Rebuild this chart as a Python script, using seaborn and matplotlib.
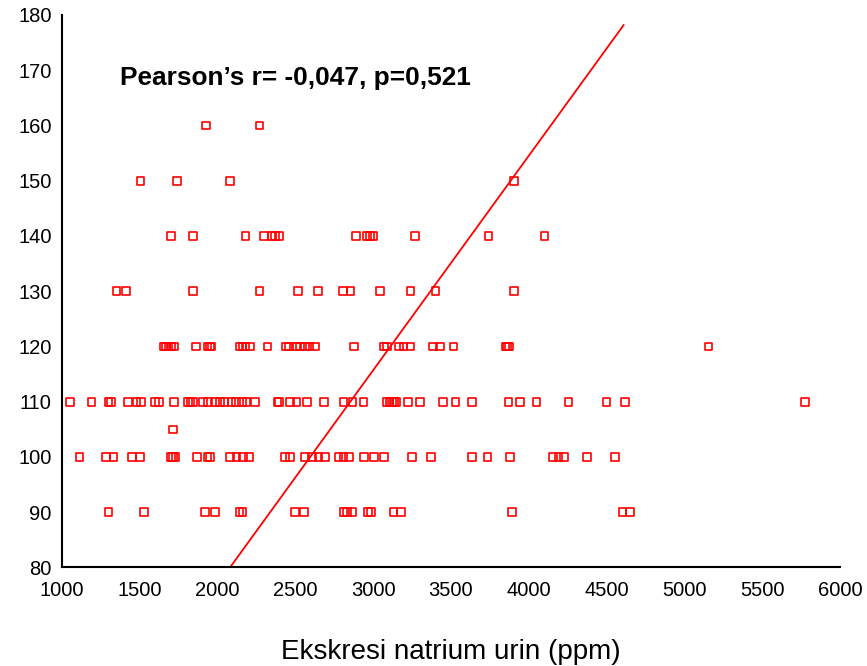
import numpy as np
import pandas as pd
import matplotlib
matplotlib.use("Agg")
import matplotlib.pyplot as plt
import seaborn as sns

# Data (urinary sodium excretion in ppm vs. blood pressure level)
x_160 = [1925, 2270]
x_150 = [1505, 1740, 2080, 3905]
x_140 = [1700, 1840, 2180, 2300, 2350, 2370, 2395, 2890, 2960, 2980, 3000, 3270, 3740, 4100]
x_130 = [1350, 1410, 1840, 2270, 2515, 2645, 2805, 2855, 3045, 3240, 3400, 3905]
x_120 = [1655, 1670, 1685, 1700, 1718, 1862, 1935, 1950, 1962, 2140, 2160, 2180, 2208,
         2320, 2440, 2460, 2505, 2530, 2560, 2590, 2625, 2875, 3070, 3090, 3165, 3195,
         3240, 3385, 3430, 3515, 3850, 3860, 3872, 5155]
x_110 = [1050, 1190, 1300, 1315, 1425, 1480, 1508, 1598, 1625, 1720, 1810, 1825, 1840,
         1905, 1940, 1985, 2015, 2045, 2090, 2120, 2155, 2185, 2240, 2385, 2395, 2465,
         2508, 2573, 2685, 2808, 2868, 2937, 3090, 3105, 3120, 3135, 3150, 3225, 3300,
         3450, 3530, 3635, 3870, 3945, 4050, 4255, 4500, 4620, 5775]
x_105 = [1712]
x_100 = [1112, 1283, 1330, 1450, 1500, 1700, 1715, 1730, 1866, 1935, 1950, 2080, 2122,
         2165, 2200, 2433, 2465, 2562, 2605, 2648, 2690, 2776, 2808, 2846, 2941, 3005,
         3070, 3250, 3370, 3635, 3735, 3880, 4155, 4190, 4225, 4372, 4555]
x_90 = [1298, 1527, 1920, 1985, 2140, 2160, 2497, 2555, 2810, 2830, 2868, 2965, 2985,
        3130, 3177, 3890, 4603, 4650]

levels = [160, 150, 140, 130, 120, 110, 105, 100, 90]
groups = [x_160, x_150, x_140, x_130, x_120, x_110, x_105, x_100, x_90]

trend_x = [2080, 4610]
trend_y = [80, 178.2]

x_ticks = [1000, 1500, 2000, 2500, 3000, 3500, 4000, 4500, 5000, 5500, 6000]
y_ticks = [80, 90, 100, 110, 120, 130, 140, 150, 160, 170, 180]

annotation = "Pearson\u2019s r= -0,047, p=0,521"
x_label = "Ekskresi natrium urin (ppm)"

df = pd.DataFrame({
    "x": [v for g in groups for v in g],
    "y": [lvl for lvl, g in zip(levels, groups) for _ in g],
})

sns.set_style("white")
plt.rcParams["font.family"] = ["Liberation Sans", "DejaVu Sans"]

fig = plt.figure(figsize=(8.67, 6.66), dpi=100)
ax = fig.add_axes([0.0715, 0.148, 0.8974, 0.8295])

sns.scatterplot(data=df, x="x", y="y", marker="s", s=30, facecolor="none",
                edgecolor="#ff0000", linewidth=1.2, ax=ax, zorder=3)
sns.lineplot(x=trend_x, y=trend_y, color="#ff0000", linewidth=1.3, ax=ax,
             estimator=None, zorder=2)

ax.set_xlim(1000, 6000)
ax.set_ylim(80, 180)
ax.set_xticks(x_ticks)
ax.set_yticks(y_ticks)
ax.tick_params(axis="both", direction="out", length=5, width=1.2, color="black",
               labelsize=14.5)
ax.tick_params(axis="x", pad=5)
ax.tick_params(axis="y", pad=2.5)
for lab in ax.get_xticklabels() + ax.get_yticklabels():
    lab.set_color("black")

for side in ["top", "right"]:
    ax.spines[side].set_visible(False)
for side in ["left", "bottom"]:
    ax.spines[side].set_color("black")
    ax.spines[side].set_linewidth(1.5)

ax.set_xlabel(x_label, fontsize=20, labelpad=28, color="black")
ax.set_ylabel("")

ax.text(0.074, 0.886, annotation, transform=ax.transAxes, fontsize=18.9,
        fontweight="bold", va="center", ha="left", color="black")

fig.savefig("out.png", dpi=100, facecolor="white")
